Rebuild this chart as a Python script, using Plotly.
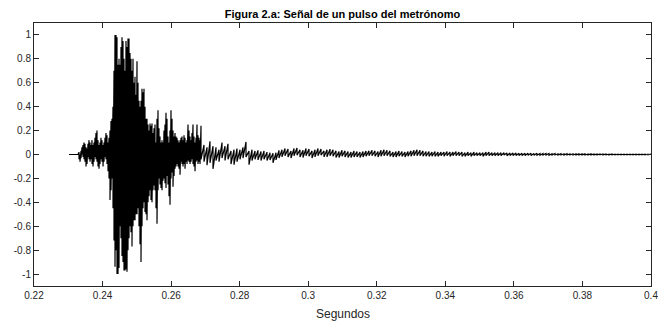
import numpy as np
import plotly.graph_objects as go

# ---- data ----
# burst region: per-sample-column upper / lower excursions, hundredths (0.2302 .. 0.2684 s)
burst_t_start, burst_t_end = 0.23021, 0.26843
burst_hi = [0, 0, 0, 0, 0, 0, 0, 0, 0, 0,
            2, 0, 3, 6, 8, 10, 9, 6, 5, 9,
            12, 10, 8, 12, 8, 10, 14, 18, 20, 12,
            8, 10, 14, 12, 8, 10, 14, 18, 16, 10,
            14, 20, 28, 30, 40, 70, 100, 100, 98, 75,
            80, 75, 90, 98, 95, 80, 70, 95, 90, 97,
            97, 85, 80, 70, 80, 60, 65, 50, 78, 60,
            45, 40, 45, 55, 52, 55, 40, 30, 30, 25,
            20, 26, 24, 26, 18, 22, 25, 10, 30, 37,
            22, 15, 10, 12, 10, 20, 25, 35, 30, 15,
            10, 20, 37, 30, 20, 15, 18, 15, 14, 12,
            10, 12, 14, 15, 12, 16, 14, 10, 12, 25,
            20, 15, 12, 18, 25, 15, 10, 14, 25, 16,
            14, 12]
burst_lo = [0, 0, 0, 0, 0, 0, 0, 0, 0, 0,
            -4, -6, -3, 0, -2, -4, -6, -10, -8, -2,
            -4, -6, -4, -8, -10, -6, -2, -4, -6, -10,
            -12, -8, -4, -6, -10, -6, -2, -4, -8, -14,
            -20, -38, -30, -20, -45, -72, -94, -80, -100, -100,
            -95, -60, -70, -85, -90, -97, -97, -96, -98, -80,
            -70, -60, -65, -77, -60, -55, -55, -50, -50, -45,
            -60, -75, -90, -60, -45, -40, -48, -50, -55, -40,
            -35, -30, -38, -40, -30, -26, -30, -45, -58, -30,
            -20, -25, -28, -30, -22, -20, -24, -28, -18, -25,
            -35, -42, -20, -15, -27, -18, -12, -10, -8, -10,
            -12, -17, -6, -8, -10, -8, -12, -6, -8, -5,
            -6, -8, -6, -4, -8, -10, -14, -6, -5, -8,
            -6, -8]

# decaying tail: upper / lower excursions, thousandths (0.2687 .. 0.40 s)
tail_t_start, tail_t_end = 0.26872, 0.40
tail_hi = [240, 80, 60, 110, 70, 60, 40, 100, 70, 90,
           30, 40, 50, 40, 60, 105, 30, 40, 30, 35,
           25, 30, 20, 15, 10, 15, 35, 40, 50, 45,
           30, 50, 55, 40, 35, 50, 45, 30, 40, 50,
           45, 30, 40, 45, 40, 30, 25, 35, 30, 25,
           20, 30, 25, 20, 25, 30, 30, 35, 30, 25,
           35, 40, 35, 30, 20, 25, 30, 25, 20, 25,
           30, 35, 40, 35, 30, 25, 25, 20, 25, 20,
           20, 20, 25, 20, 20, 25, 20, 20, 15, 20,
           15, 20, 15, 15, 15, 20, 20, 15, 15, 15,
           15, 15, 12, 12, 12, 12, 10, 10, 10, 10,
           10, 8, 10, 8, 8, 8, 8, 6, 8, 6,
           6, 6, 6, 5, 6, 5, 5, 5, 5, 4,
           5, 4, 4, 4, 4, 4, 3, 4, 3, 3,
           3, 3, 3, 3, 3, 3, 3, 3, 3, 3,
           3]
tail_lo = [-40, -60, -90, -70, -120, -50, -60, -30, -50, -40,
           -80, -85, -60, -40, -30, -20, -85, -50, -40, -45,
           -50, -40, -50, -45, -70, -45, -30, -20, -10, -20,
           -30, -10, -5, -20, -25, -10, -15, -30, -20, -10,
           -5, -20, -20, -10, -15, -25, -25, -15, -20, -25,
           -25, -20, -20, -25, -20, -15, -10, -10, -15, -20,
           -15, -10, -10, -15, -20, -20, -15, -15, -20, -15,
           -15, -10, -10, -10, -15, -15, -15, -15, -15, -15,
           -10, -15, -10, -15, -10, -10, -10, -15, -15, -10,
           -15, -10, -10, -10, -15, -10, -10, -10, -10, -10,
           -10, -5, -10, -8, -8, -8, -8, -8, -8, -6,
           -8, -6, -6, -6, -5, -5, -6, -5, -4, -5,
           -4, -5, -4, -4, -4, -3, -4, -3, -4, -3,
           -3, -3, -3, -2, -3, -2, -3, -2, -2, -2,
           -2, -2, -2, -2, -2, -2, -2, -2, -2, -2,
           -2]

x_ticks = [0.22, 0.24, 0.26, 0.28, 0.30, 0.32, 0.34, 0.36, 0.38, 0.40]
x_tick_text = ["0.22", "0.24", "0.26", "0.28", "0.3", "0.32", "0.34", "0.36", "0.38", "0.4"]
y_ticks = [-1, -0.8, -0.6, -0.4, -0.2, 0, 0.2, 0.4, 0.6, 0.8, 1]
y_tick_text = ["-1", "-0.8", "-0.6", "-0.4", "-0.2", "0", "0.2", "0.4", "0.6", "0.8", "1"]

title_text = "Figura 2.a: Señal de un pulso del metrónomo"
xlabel_text = "Segundos"

# ---- build the trace ----
xs, ys = [], []
bt = np.linspace(burst_t_start, burst_t_end, len(burst_hi))
for t, h, l in zip(bt, burst_hi, burst_lo):
    xs += [t, t]
    ys += [h / 100.0, l / 100.0]
tt = np.linspace(tail_t_start, tail_t_end, len(tail_hi))
for t, h, l in zip(tt, tail_hi, tail_lo):
    xs += [t, t]
    ys += [h / 1000.0, l / 1000.0]

fig = go.Figure(go.Scatter(x=xs, y=ys, mode="lines",
                           line=dict(color="black", width=1.2),
                           hoverinfo="skip"))

axis_col = "#262626"
font_fam = "Liberation Sans, Arial, sans-serif"
fig.update_layout(
    width=658, height=322,
    margin=dict(l=34, r=7, t=23, b=36, autoexpand=False),
    paper_bgcolor="white", plot_bgcolor="white",
    showlegend=False,
    font=dict(family=font_fam, size=10, color=axis_col),
    title=dict(text="<b>" + title_text + "</b>", x=0.5205, xanchor="center",
               y=1 - 14.5 / 322, yanchor="middle",
               font=dict(family=font_fam, size=11, color="black")),
)
fig.update_xaxes(range=[0.22, 0.4000001], tickvals=x_ticks, ticktext=x_tick_text,
                 ticks="inside", ticklen=5, tickwidth=1, tickcolor=axis_col,
                 showline=True, linecolor=axis_col, linewidth=1, mirror="ticks",
                 showgrid=False, zeroline=False, ticklabeloverflow="allow",
                 automargin=False,
                 tickfont=dict(size=10, color=axis_col))
fig.update_yaxes(range=[-1.1, 1.1], tickvals=y_ticks, ticktext=y_tick_text,
                 ticks="inside", ticklen=5, tickwidth=1, tickcolor=axis_col,
                 showline=True, linecolor=axis_col, linewidth=1, mirror="ticks",
                 showgrid=False, zeroline=False, automargin=False,
                 tickfont=dict(size=10, color=axis_col))
fig.add_annotation(text=xlabel_text, xref="paper", yref="paper", x=0.5, y=0,
                   xanchor="center", yanchor="middle", yshift=-28, showarrow=False,
                   font=dict(family=font_fam, size=12, color=axis_col))

fig.write_html("out.html")
